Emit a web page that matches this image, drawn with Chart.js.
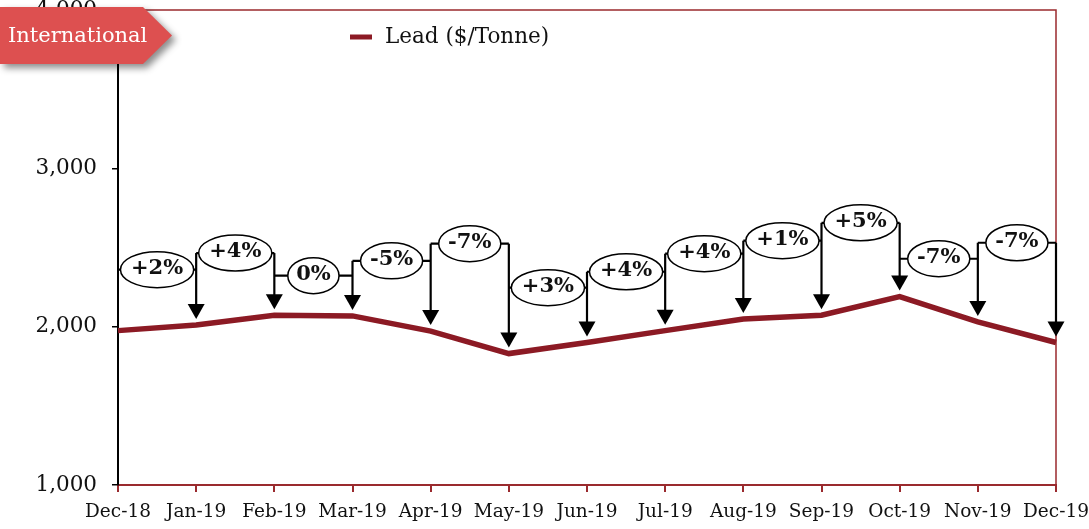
<!DOCTYPE html>
<html>
<head>
<meta charset="utf-8">
<script src="https://cdn.jsdelivr.net/npm/chart.js@4.4.1/dist/chart.umd.min.js"></script>
<style>
  html, body { margin: 0; padding: 0; background: #ffffff; }
  canvas { display: block; }
</style>
</head>
<body>
<canvas id="c" width="1089" height="529"></canvas>
<script>
// ---- data ----
const categories = ['Dec-18','Jan-19','Feb-19','Mar-19','Apr-19','May-19','Jun-19','Jul-19','Aug-19','Sep-19','Oct-19','Nov-19','Dec-19'];
const leadPrices = [1975, 2010, 2072, 2068, 1972, 1830, 1900, 1975, 2048, 2072, 2190, 2030, 1900];
const changeLabels = ['+2%','+4%','0%','-5%','-7%','+3%','+4%','+4%','+1%','+5%','-7%','-7%'];
const bracketLevels = [2360, 2465, 2322, 2416, 2524, 2246, 2347, 2461, 2543, 2656, 2429, 2530];
const yTicks = [1000, 2000, 3000, 4000];
const seriesLabel = 'Lead ($/Tonne)';
const bannerText = 'International';

const FONT = "'DejaVu Serif', serif";
const LINE_RED = '#8c1a24';
const BORDER_RED = '#9a2a2e';

Chart.defaults.font.family = FONT;
Chart.defaults.color = '#111111';

const overlayPlugin = {
  id: 'overlay',
  beforeDatasetsDraw(chart) {
    const { ctx, chartArea: a } = chart;
    ctx.save();
    ctx.strokeStyle = BORDER_RED;
    ctx.lineWidth = 1.5;
    ctx.beginPath();
    ctx.moveTo(a.left, a.top);
    ctx.lineTo(a.right, a.top);
    ctx.lineTo(a.right, a.bottom);
    ctx.stroke();
    ctx.restore();
  },
  afterDatasetsDraw(chart) {
    const { ctx } = chart;
    const xs = chart.scales.x, ys = chart.scales.y;
    ctx.save();
    ctx.font = "bold 21px " + FONT;
    const px = categories.map((c, i) => xs.getPixelForValue(i));
    const hy = bracketLevels.map(v => ys.getPixelForValue(v));
    // vertical arrows
    ctx.strokeStyle = '#000';
    ctx.fillStyle = '#000';
    ctx.lineWidth = 2.2;
    for (let j = 1; j < categories.length; j++) {
      const top = j < bracketLevels.length ? Math.min(hy[j - 1], hy[j]) : hy[j - 1];
      const tip = ys.getPixelForValue(leadPrices[j]) - 6;
      ctx.beginPath();
      ctx.moveTo(px[j], top);
      ctx.lineTo(px[j], tip - 12);
      ctx.stroke();
      ctx.beginPath();
      ctx.moveTo(px[j] - 8.5, tip - 15);
      ctx.lineTo(px[j] + 8.5, tip - 15);
      ctx.lineTo(px[j], tip);
      ctx.closePath();
      ctx.fill();
    }
    // brackets with ellipses
    for (let i = 0; i < changeLabels.length; i++) {
      const x0 = px[i], x1 = px[i + 1], y = hy[i];
      ctx.strokeStyle = '#000';
      ctx.lineWidth = 2.2;
      ctx.beginPath();
      ctx.moveTo(x0, y);
      ctx.lineTo(x1, y);
      ctx.stroke();
      const tw = ctx.measureText(changeLabels[i]).width;
      const w = Math.min(tw * 1.25 + 8, (x1 - x0) - 3);
      const h = 36;
      const cx = (x0 + x1) / 2;
      ctx.beginPath();
      ctx.ellipse(cx, y, w / 2, h / 2, 0, 0, Math.PI * 2);
      ctx.fillStyle = '#fff';
      ctx.fill();
      ctx.lineWidth = 1.5;
      ctx.stroke();
      ctx.fillStyle = '#111';
      ctx.textAlign = 'center';
      ctx.textBaseline = 'middle';
      ctx.fillText(changeLabels[i], cx, y - 1);
    }
    ctx.restore();
  },
  afterDraw(chart) {
    const { ctx } = chart;
    ctx.save();
    // legend
    const ds = chart.data.datasets[0];
    ctx.strokeStyle = ds.borderColor;
    ctx.lineWidth = 5;
    ctx.beginPath();
    ctx.moveTo(350, 37);
    ctx.lineTo(372, 37);
    ctx.stroke();
    ctx.fillStyle = '#111';
    ctx.font = "21.5px " + FONT;
    ctx.textAlign = 'left';
    ctx.textBaseline = 'middle';
    ctx.fillText(ds.label, 385, 37);
    // banner
    ctx.shadowColor = 'rgba(0,0,0,0.45)';
    ctx.shadowBlur = 7;
    ctx.shadowOffsetX = 4;
    ctx.shadowOffsetY = 4;
    ctx.fillStyle = '#dd5050';
    ctx.beginPath();
    ctx.moveTo(0, 7);
    ctx.lineTo(143, 7);
    ctx.lineTo(172, 35.5);
    ctx.lineTo(143, 64);
    ctx.lineTo(0, 64);
    ctx.closePath();
    ctx.fill();
    ctx.shadowColor = 'transparent';
    ctx.fillStyle = '#ffffff';
    ctx.font = "21px " + FONT;
    ctx.textAlign = 'left';
    ctx.textBaseline = 'middle';
    ctx.fillText(bannerText, 8, 37);
    ctx.restore();
  }
};

new Chart(document.getElementById('c'), {
  type: 'line',
  data: {
    labels: categories,
    datasets: [{
      label: seriesLabel,
      data: leadPrices,
      borderColor: LINE_RED,
      backgroundColor: LINE_RED,
      borderWidth: 5.5,
      pointRadius: 0,
      tension: 0,
      fill: false
    }]
  },
  options: {
    responsive: false,
    devicePixelRatio: 1,
    animation: false,
    layout: { padding: { left: 0, right: 33, top: 10, bottom: 0 } },
    plugins: { legend: { display: false }, tooltip: { enabled: false } },
    scales: {
      x: {
        offset: false,
        border: { display: true, color: BORDER_RED, width: 2 },
        grid: { drawOnChartArea: false, drawTicks: true, tickLength: 7, color: BORDER_RED, lineWidth: 2 },
        ticks: { autoSkip: false, maxRotation: 0, padding: 9, color: '#111', font: { size: 18.5 } },
        afterFit(s) { s.height = 44; s.paddingLeft = 0; s.paddingRight = 0; }
      },
      y: {
        min: 1000,
        max: 4000,
        border: { display: true, color: '#000', width: 2 },
        grid: { drawOnChartArea: false, drawTicks: true, tickLength: 6, color: '#000', lineWidth: 1.5 },
        afterBuildTicks(s) { s.ticks = yTicks.map(v => ({ value: v })); },
        ticks: {
          padding: 15,
          color: '#111',
          font: { size: 21.5 },
          callback: v => v.toLocaleString('en-US')
        },
        afterFit(s) { s.width = 118; s.paddingTop = 0; s.paddingBottom = 0; }
      }
    }
  },
  plugins: [overlayPlugin]
});
</script>
</body>
</html>
